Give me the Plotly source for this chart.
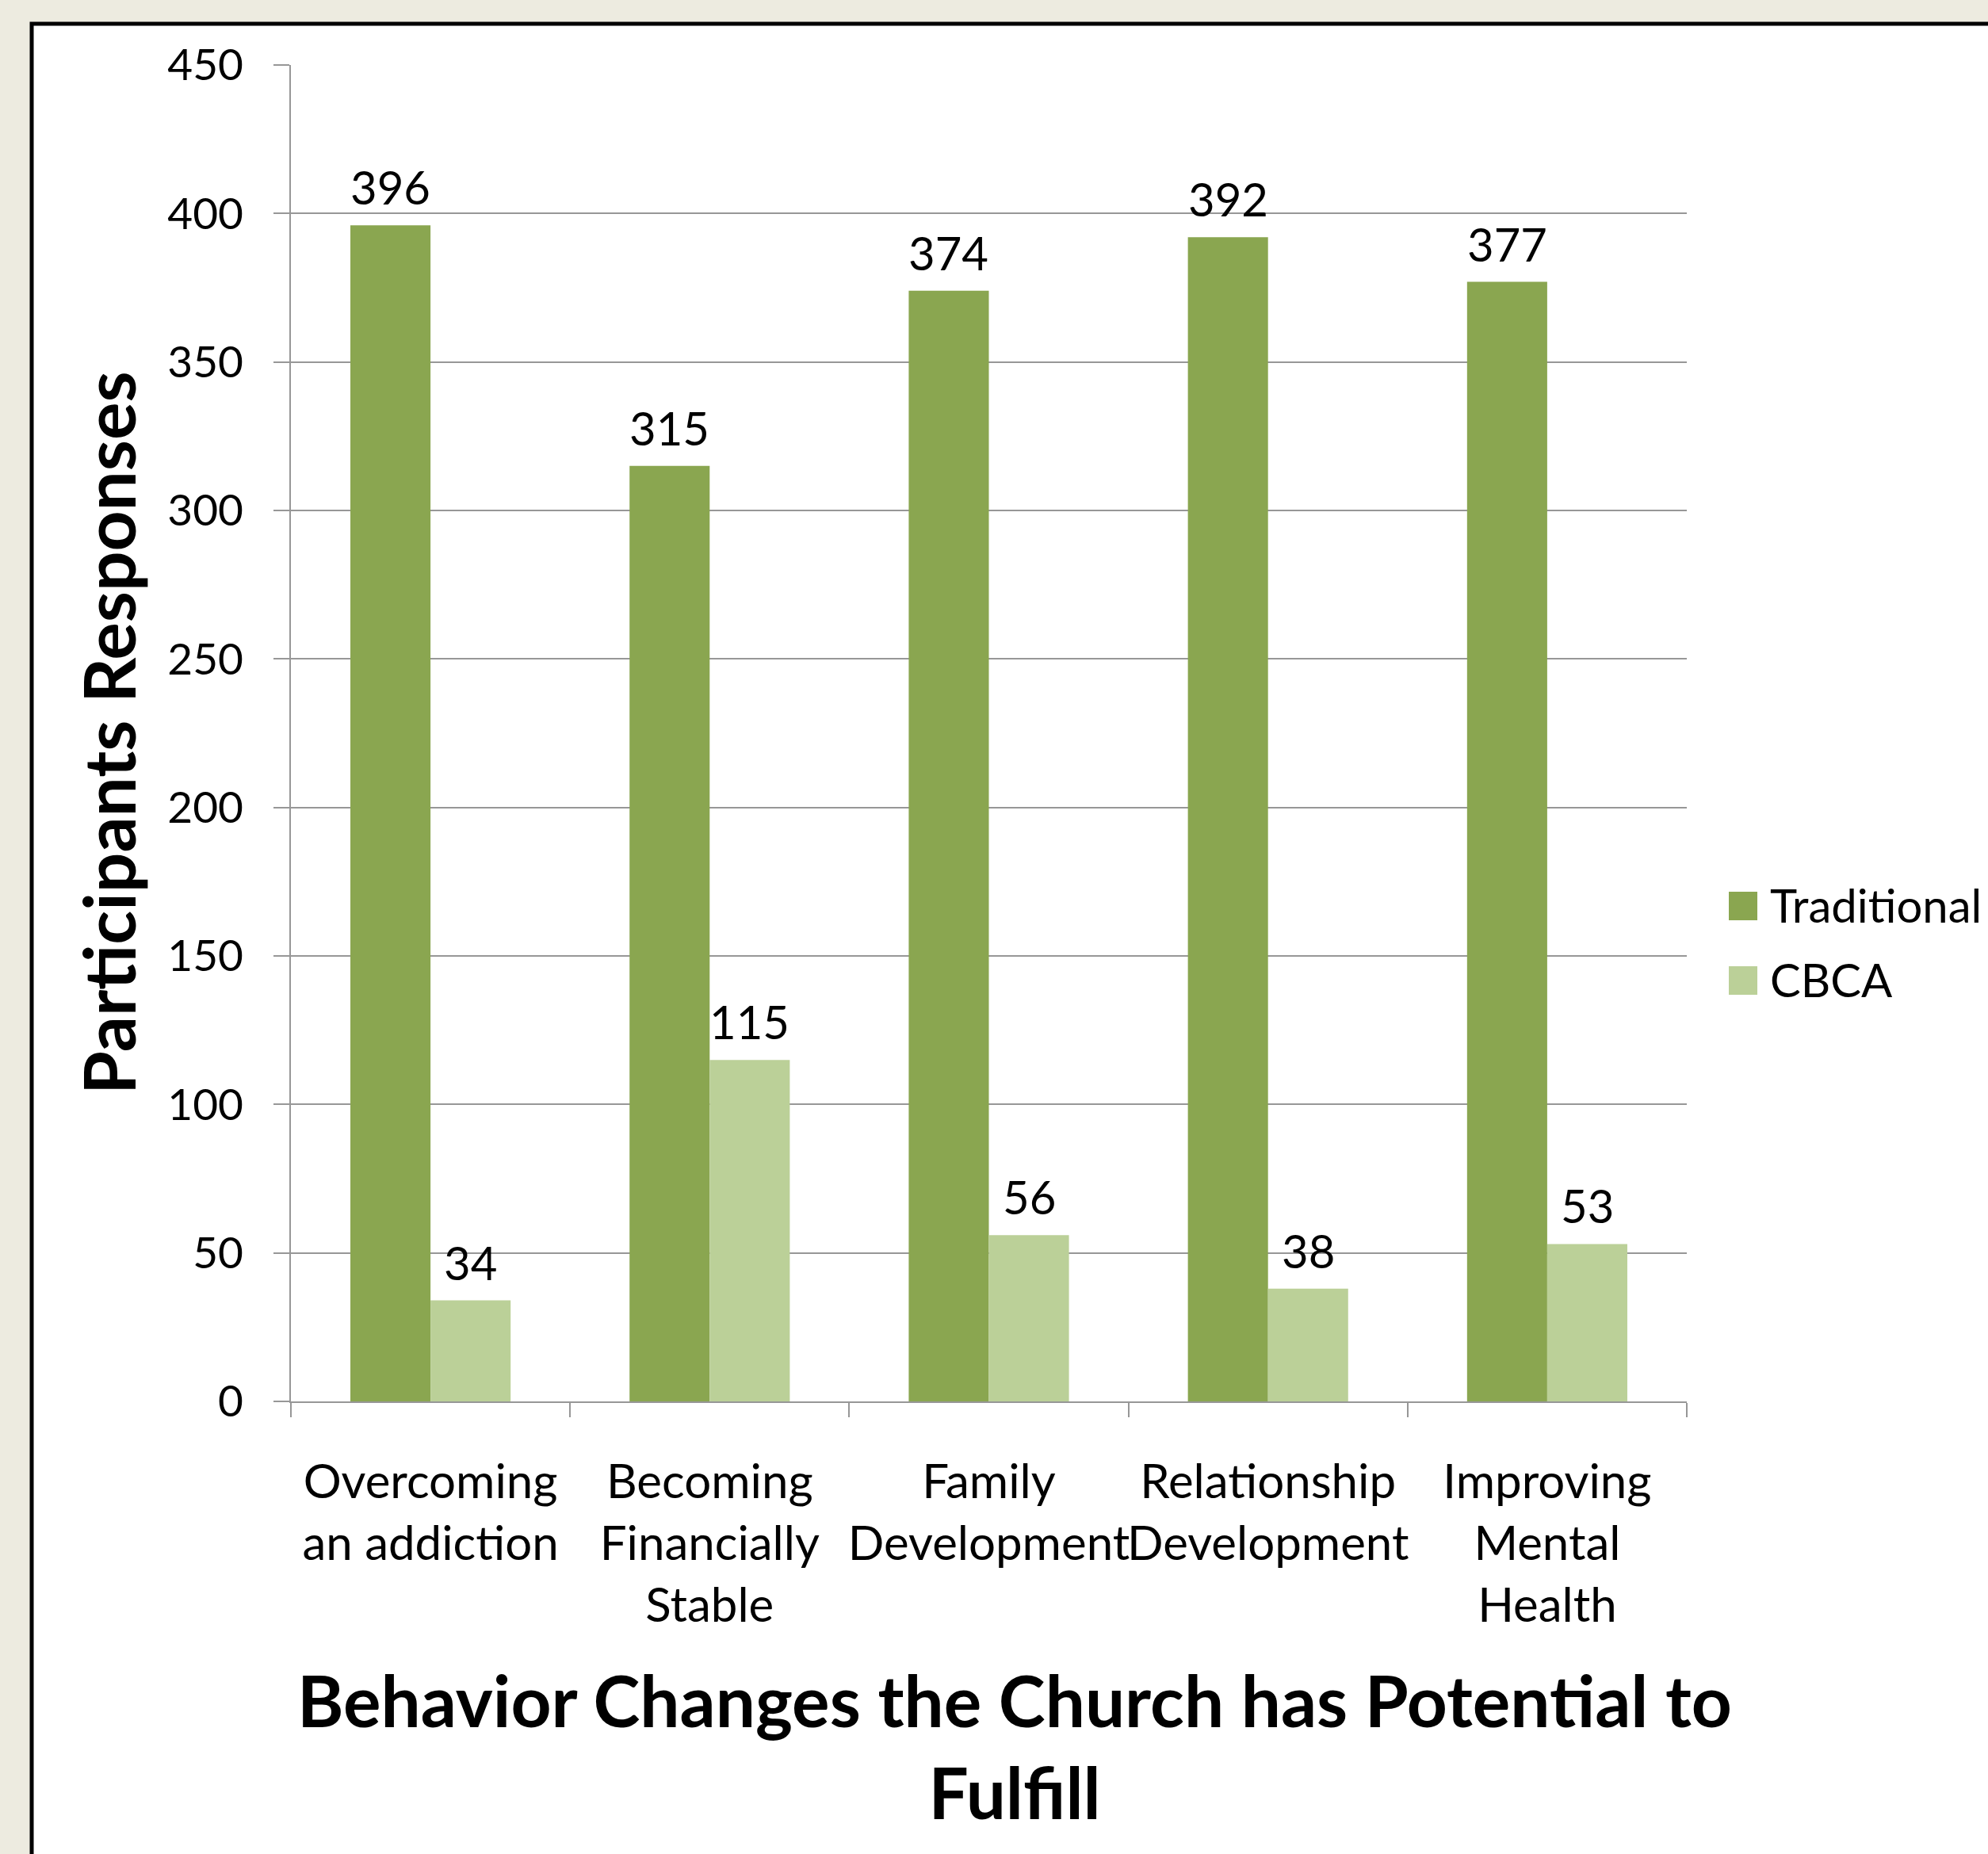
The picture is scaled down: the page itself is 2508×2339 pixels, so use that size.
import plotly.graph_objects as go

categories = ["Overcoming<br>an addiction", "Becoming<br>Financially<br>Stable",
              "Family<br>Development", "Relationship<br>Development",
              "Improving<br>Mental<br>Health"]
traditional = [396, 315, 374, 392, 377]
cbca = [34, 115, 56, 38, 53]
series_names = ["Traditional", "CBCA"]
y_ticks = [0, 50, 100, 150, 200, 250, 300, 350, 400, 450]

W, H = 2508, 2339
L, R, T, B = 367, 2128, 82, 1768
PW, PH = R - L, B - T

def px(x):
    return (x - L) / PW

def py(y):
    return (B - y) / PH

DARK = "#8AA650"
LIGHT = "#BBD098"
GRID = "#979797"
FONT = "Lato"
FS = 58

fig = go.Figure()
fig.add_trace(go.Bar(x=categories, y=traditional, name=series_names[0],
                     marker=dict(color=DARK, line=dict(width=0)), showlegend=False))
fig.add_trace(go.Bar(x=categories, y=cbca, name=series_names[1],
                     marker=dict(color=LIGHT, line=dict(width=0)), showlegend=False))

bar_half = (1 - 0.426) / 2 * PW / len(categories) / 2
annotations = []
for vals, shift in ((traditional, -bar_half), (cbca, bar_half)):
    for c, v in zip(categories, vals):
        annotations.append(dict(x=c, y=v, xref="x", yref="y", text=str(v),
                                showarrow=False, xshift=shift, yshift=12,
                                yanchor="bottom", xanchor="center",
                                font=dict(family=FONT, size=FS, color="black")))

# legend
leg = [(series_names[0], DARK, 1125, 1161), (series_names[1], LIGHT, 1219, 1255)]
shapes = [dict(type="rect", xref="paper", yref="paper", x0=px(40), x1=px(2600),
               y0=py(2500), y1=py(30), fillcolor="white",
               line=dict(color="black", width=5), layer="below")]
for name, col, y0, y1 in leg:
    shapes.append(dict(type="rect", xref="paper", yref="paper", x0=px(2181), x1=px(2217),
                       y0=py(y1), y1=py(y0), fillcolor=col, line=dict(width=0)))
    annotations.append(dict(x=px(2231), y=py((y0 + y1) / 2 - 2), xref="paper", yref="paper",
                            text=name, showarrow=False, xanchor="left", yanchor="middle",
                            font=dict(family=FONT, size=FS, color="black")))

annotations.append(dict(x=px(1280), y=py(2202), xref="paper", yref="paper",
                        text="<b>Behavior Changes the Church has Potential to<br>Fulfill</b>",
                        showarrow=False, xanchor="center", yanchor="middle",
                        font=dict(family=FONT, size=89, color="black")))
annotations.append(dict(x=px(136), y=0.5, xref="paper", yref="paper",
                        text="<b>Participants Responses</b>", textangle=-90,
                        showarrow=False, xanchor="center", yanchor="middle",
                        font=dict(family=FONT, size=89, color="black")))

fig.update_layout(
    width=W, height=H,
    margin=dict(l=L, r=W - R, t=T, b=H - B, autoexpand=False),
    paper_bgcolor="#EDEBE0", plot_bgcolor="rgba(0,0,0,0)",
    barmode="group", bargap=0.426, bargroupgap=0,
    font=dict(family=FONT, size=FS, color="black"),
    annotations=annotations, shapes=shapes, showlegend=False,
)
fig.update_xaxes(type="category", showline=True, linecolor=GRID, linewidth=2,
                 ticks="outside", tickson="boundaries", ticklen=18, tickwidth=2,
                 tickcolor=GRID, showgrid=False, ticklabelstandoff=48, tickangle=0,
                 tickfont=dict(family=FONT, size=60, color="black"))
fig.update_yaxes(range=[0, 450], tickvals=y_ticks, showline=True, linecolor=GRID,
                 linewidth=2, showgrid=True, gridcolor=GRID, gridwidth=2,
                 zeroline=False, ticks="outside", ticklen=20, tickwidth=2,
                 tickcolor=GRID, ticklabelstandoff=27,
                 tickfont=dict(family=FONT, size=55, color="black"))

fig.write_html("out.html")
